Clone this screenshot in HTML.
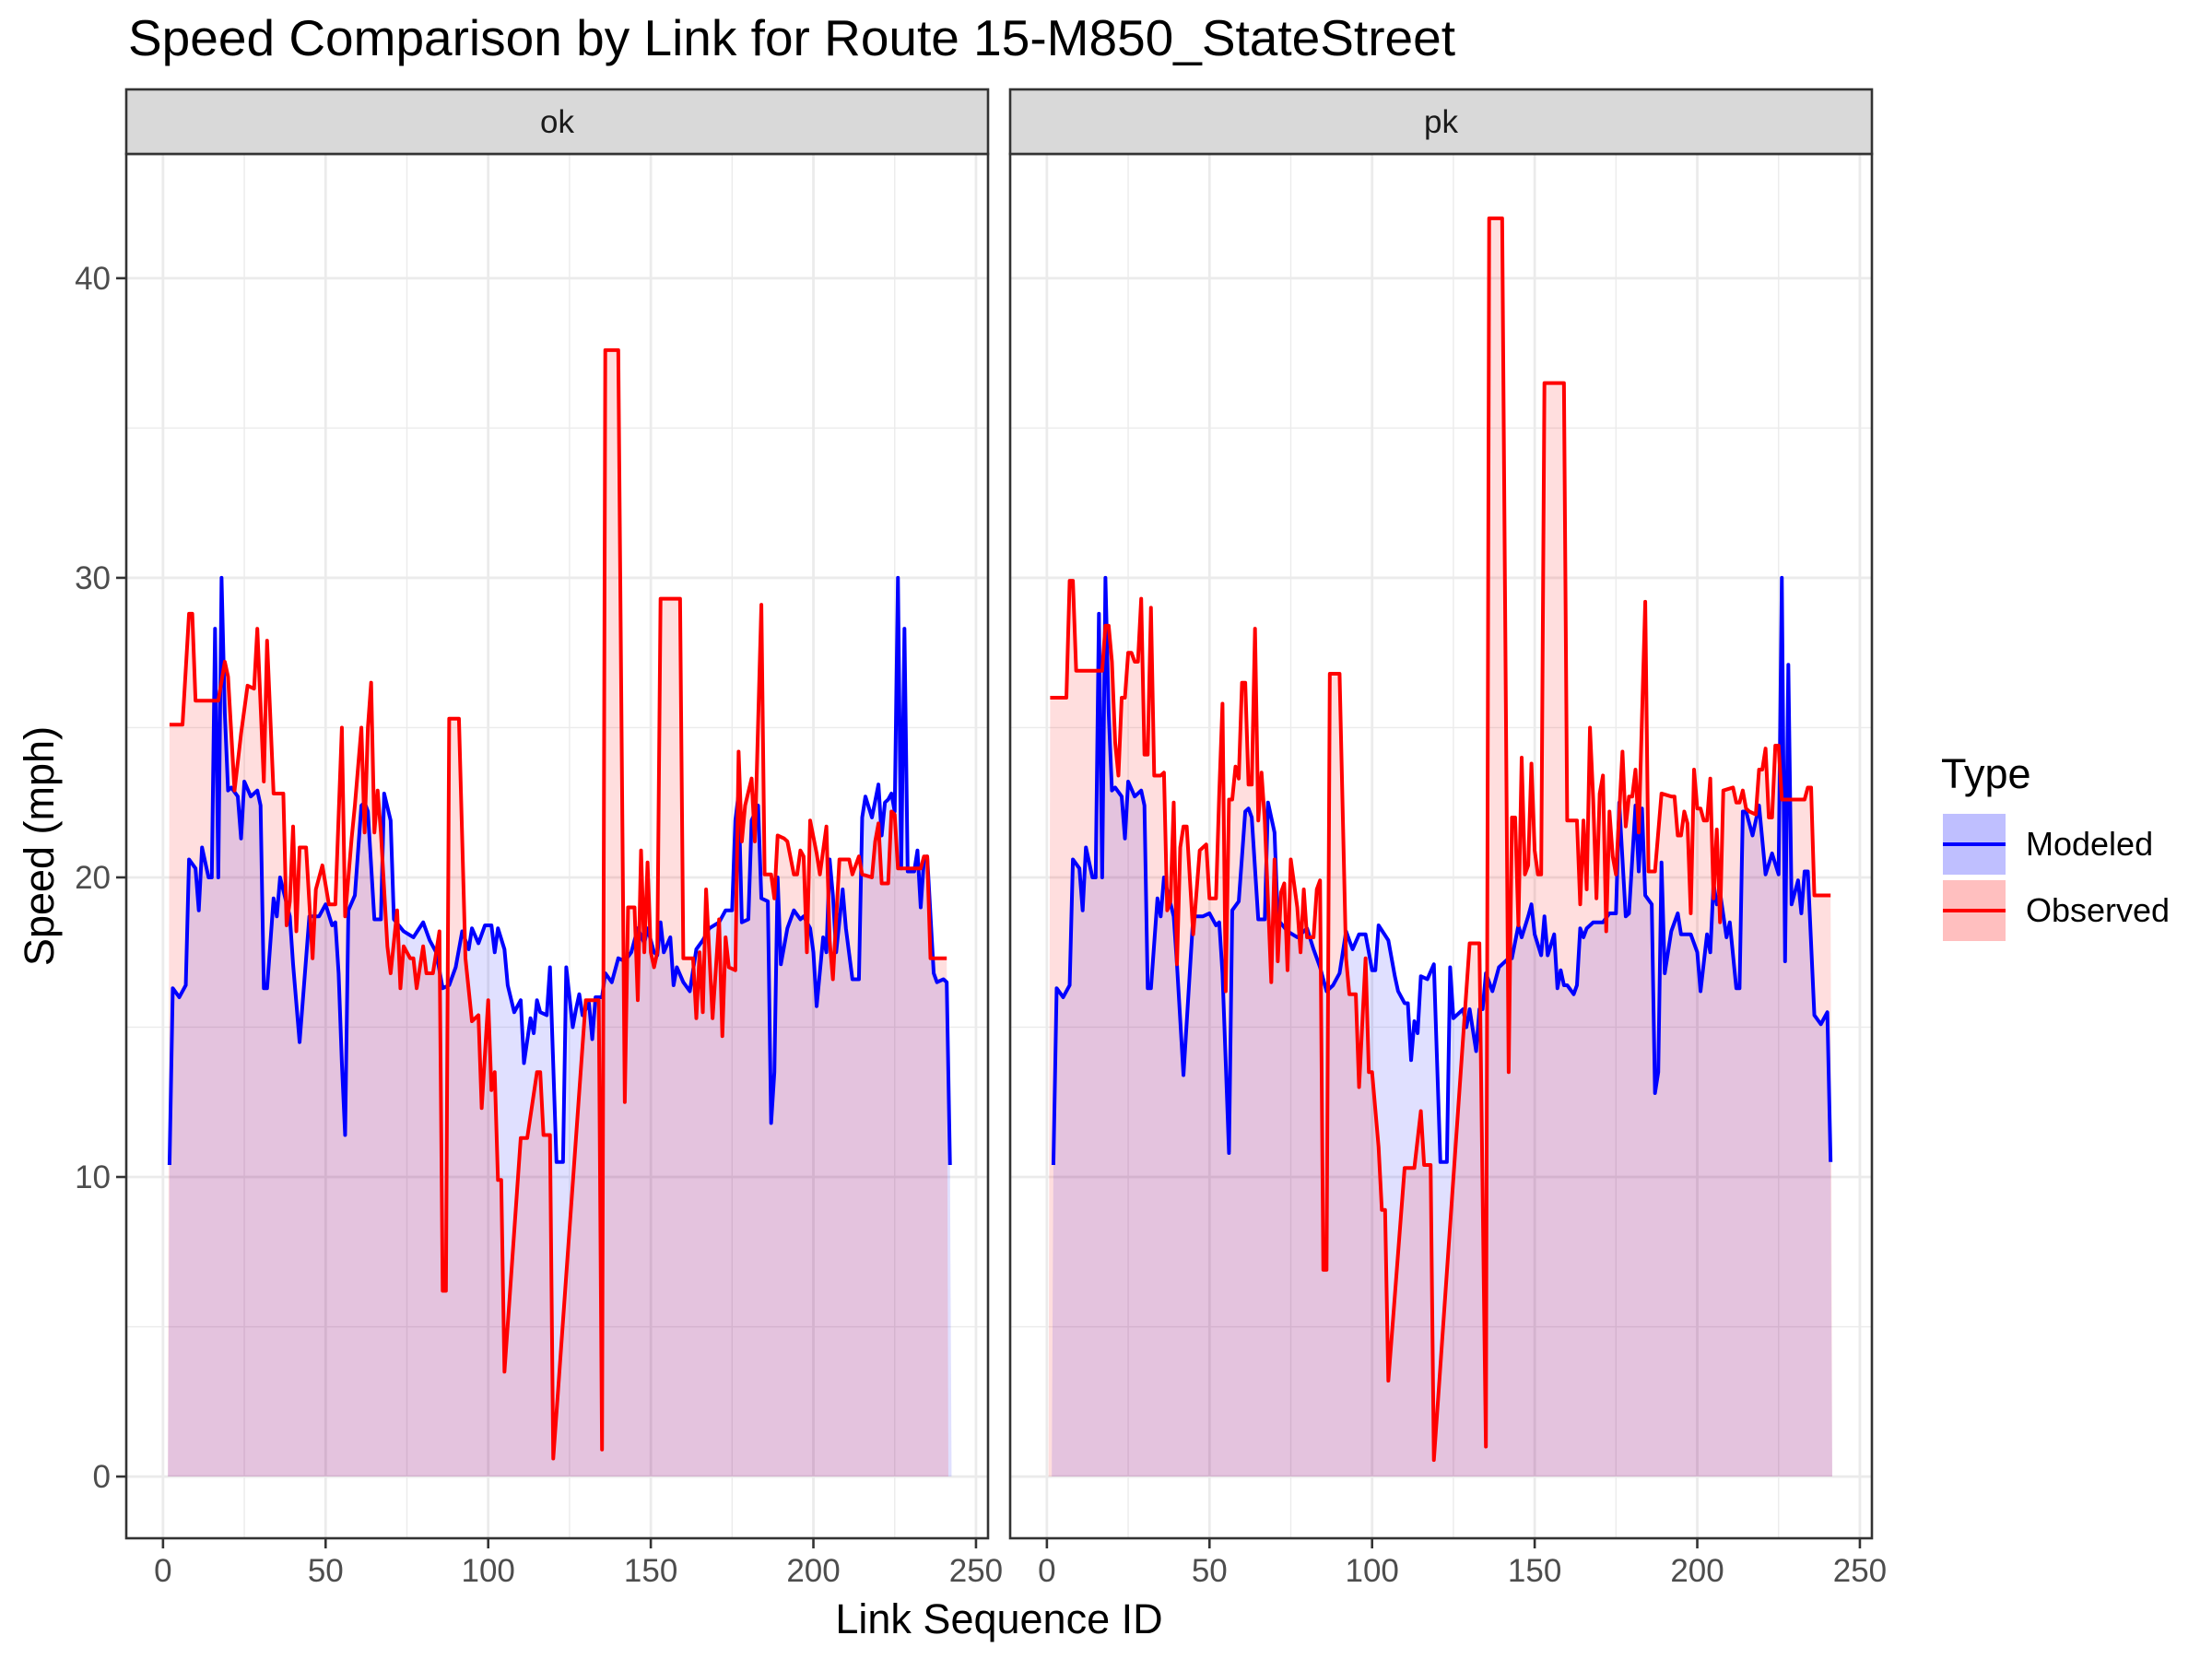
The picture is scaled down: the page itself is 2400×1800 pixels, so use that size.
<!DOCTYPE html>
<html><head><meta charset="utf-8">
<style>
html,body{margin:0;padding:0;background:#fff;}
svg{display:block;font-family:"Liberation Sans",Arial,sans-serif;}
</style></head>
<body>
<svg id="chart" width="2400" height="1800" viewBox="0 0 2400 1800" xmlns="http://www.w3.org/2000/svg">
<rect width="2400" height="1800" fill="#fff"/>
<text x="139" y="60" font-size="55" fill="#000">Speed Comparison by Link for Route 15-M850_StateStreet</text>
<g id="panels"></g>
<text x="1084" y="1772" font-size="45" text-anchor="middle" fill="#000">Link Sequence ID</text>
<text transform="translate(58,918) rotate(-90)" font-size="45" text-anchor="middle" fill="#000">Speed (mph)</text>
<g>
<text x="2106" y="855" font-size="45" fill="#000">Type</text>
<g>
<rect x="2108" y="883" width="68" height="66" fill="rgba(0,0,255,0.25)"/>
<line x1="2108" y1="916" x2="2176" y2="916" stroke="#0000ff" stroke-width="4"/>
<text x="2198" y="928" font-size="36" fill="#000">Modeled</text>
</g>
<g>
<rect x="2108" y="955" width="68" height="66" fill="rgba(255,0,0,0.25)"/>
<line x1="2108" y1="988" x2="2176" y2="988" stroke="#ff0000" stroke-width="4"/>
<text x="2198" y="1000" font-size="36" fill="#000">Observed</text>
</g>
</g>
</svg>
<script>
var xTicks=[0,50,100,150,200,250];
var yTicks=[0,10,20,30,40];
var panelNames=["ok","pk"];

var okModeledIds=[2,3,5,7,8,10,11,12,14,15,16,17,18,19,20,21,23,24,25,27,29,30,31,32,34,35,36,39,40,42,45,48,50,52,53,54,55,56,57,59,61,62,63,65,67,68,70,71,74,77,80,82,84,86,88,90,92,94,95,97,99,101,102,103,105,106,108,110,111,113,114,115,116,118,119,121,123,124,126,127,128,129,131,132,133,135,136,138,140,142,144,146,148,149,151,152,153,154,156,157,158,160,162,164,166,168,171,173,175,176,177,178,180,181,183,184,186,187,188,189,190,192,194,196,197,199,200,201,203,204,205,206,207,209,210,212,214,215,216,218,220,221,222,223,224,225,226,227,228,229,231,232,233,234,235,237,238,240,241,242];
var okModeledSpeeds=[10.4,16.3,16,16.4,20.6,20.3,18.9,21,20,20,28.3,20,30,25.5,22.9,23,22.7,21.3,23.2,22.7,22.9,22.4,16.3,16.3,19.3,18.7,20,18.7,17.1,14.5,18.7,18.7,19.1,18.4,18.5,16.8,13.8,11.4,18.9,19.4,22.4,22.5,22.2,18.6,18.6,22.8,21.9,18.6,18.2,18,18.5,17.9,17.5,16.3,16.4,17,18.2,17.6,18.3,17.8,18.4,18.4,17.5,18.3,17.6,16.4,15.5,15.9,13.8,15.3,14.8,15.9,15.5,15.4,17,10.5,10.5,17,15,15.6,16.1,15.4,15.8,14.6,16,16,16.8,16.5,17.3,17.2,17.5,18.3,17.8,18.3,17.5,17.4,18.5,17.5,18,16.4,17,16.5,16.2,17.6,17.9,18.3,18.5,18.9,18.9,21.9,22.8,18.5,18.6,21.9,22.4,19.3,19.2,11.8,13.5,20,17.1,18.3,18.9,18.6,18.7,18.3,17.5,15.7,18,17.5,20.6,19.4,17.5,19.6,18.3,16.6,16.6,22,22.7,22,23.1,21.4,22.5,22.6,22.8,22.2,30,20.3,28.3,20.2,20.2,20.9,19,20.6,20.7,16.8,16.5,16.6,16.5,10.4];

var okObservedIds=[2,6,8,9,10,17,19,20,22,24,26,28,29,31,32,34,37,38,39,40,41,42,44,46,47,49,51,53,55,56,58,59,61,62,63,64,65,66,67,69,70,72,73,74,76,77,78,80,81,83,85,86,87,88,91,93,95,97,98,100,101,102,103,104,105,110,112,115,116,117,119,120,130,134,135,136,140,142,143,145,146,147,148,149,150,151,152,153,159,160,163,164,165,166,167,169,171,172,173,174,176,177,178,179,181,182,184,185,187,188,189,191,192,194,195,196,197,198,199,201,202,204,205,206,208,211,212,214,215,218,219,220,221,223,224,225,226,233,234,235,236,241];
var okObservedSpeeds=[25.1,25.1,28.8,28.8,25.9,25.9,27.2,26.7,22.9,24.8,26.4,26.3,28.3,23.2,27.9,22.8,22.8,18.4,19.2,21.7,18.2,21,21,17.3,19.6,20.4,19.1,19.1,25,18.7,21.3,22.4,25,21.5,25,26.5,21.5,22.9,21.5,17.7,16.8,18.9,16.3,17.7,17.3,17.3,16.3,17.7,16.8,16.8,18.2,6.2,6.2,25.3,25.3,17.3,15.2,15.4,12.3,15.9,12.9,13.5,9.9,9.9,3.5,11.3,11.3,13.5,13.5,11.4,11.4,0.6,15.9,15.9,0.9,37.6,37.6,12.5,19,19,15.9,20.9,17.5,20.5,17.5,17,17.5,29.3,29.3,17.3,17.3,15.3,17.5,15.5,19.6,15.3,18.6,14.7,18,17,16.9,24.2,21.2,22.4,23.3,21.2,29.1,20.1,20.1,19.3,21.4,21.3,21.2,20.1,20.1,20.9,20.7,17.5,21.9,20.8,20.1,21.7,17.9,16.6,20.6,20.6,20.1,20.7,20.1,20,21.2,21.8,19.8,19.8,22.2,22.1,20.3,20.3,20.7,20.7,17.3,17.3];

var pkModeledIds=[2,3,5,7,8,10,11,12,14,15,16,17,18,19,20,21,23,24,25,27,29,30,31,32,34,35,36,39,40,42,45,48,50,52,53,54,55,56,57,59,61,62,63,65,67,68,70,71,74,77,80,82,84,86,88,90,92,94,96,98,100,101,102,105,107,108,110,111,112,113,114,115,117,119,121,123,124,125,126,128,129,130,132,133,134,135,137,139,140,142,143,145,146,148,149,150,152,153,154,156,157,158,159,160,162,163,164,165,166,168,171,173,175,176,178,179,181,182,183,184,186,187,188,189,190,192,194,195,196,198,200,201,203,204,205,206,207,209,210,212,213,214,215,217,219,221,223,225,226,227,228,229,231,232,233,234,236,238,240,241];
var pkModeledSpeeds=[10.4,16.3,16,16.4,20.6,20.3,18.9,21,20,20,28.8,20,30,25.5,22.9,23,22.7,21.3,23.2,22.7,22.9,22.4,16.3,16.3,19.3,18.7,20,18.7,17.1,13.4,18.7,18.7,18.8,18.4,18.5,16.8,13.8,10.8,18.9,19.2,22.2,22.3,22,18.6,18.6,22.5,21.5,18.6,18.2,18,18.3,17.6,17,16.2,16.4,16.8,18.2,17.6,18.1,18.1,16.9,16.9,18.4,17.9,16.7,16.2,15.8,15.8,13.9,15.2,14.8,16.7,16.6,17.1,10.5,10.5,17,15.3,15.4,15.6,15,15.6,14.2,15.6,15.6,16.8,16.2,17,17.1,17.3,17.3,18.4,18,18.7,19.1,18.1,17.4,18.7,17.4,18.1,16.3,16.9,16.4,16.4,16.1,16.4,18.3,18,18.3,18.5,18.5,18.8,18.8,22.5,18.7,18.8,22.4,20.2,22.3,19.4,19.1,12.8,13.5,20.5,16.8,18.2,18.8,18.1,18.1,18.1,17.5,16.2,18.1,17.5,19.8,19.1,19.5,18,18.5,16.3,16.3,22.2,22.2,21.4,22.4,20.1,20.8,20.1,30,17.2,27.1,19.1,19.9,18.8,20.2,20.2,15.4,15.1,15.5,10.5];

var pkObservedIds=[1,6,7,8,9,17,18,19,20,21,22,23,24,25,26,27,28,29,30,31,32,33,35,36,37,38,39,40,41,42,43,44,45,47,49,50,52,53,54,55,56,57,58,59,60,61,62,63,64,65,66,67,69,70,71,72,73,74,75,77,78,79,80,82,83,84,85,86,87,90,92,93,95,96,98,99,100,102,103,104,105,110,113,115,116,118,119,130,133,135,136,140,142,143,144,145,146,147,148,149,150,151,152,153,159,160,163,164,165,166,167,168,169,170,171,172,173,174,175,177,178,179,180,181,182,184,185,187,189,192,193,194,195,196,197,198,199,200,201,202,203,204,205,206,207,208,211,212,213,214,215,216,218,219,220,221,222,223,224,225,226,233,234,235,236,241];
var pkObservedSpeeds=[26,26,29.9,29.9,26.9,26.9,28.4,28.4,27.2,24.5,23.4,26,26,27.5,27.5,27.2,27.2,29.3,24.1,24.1,29,23.4,23.4,23.5,18.9,19.2,22.5,17.1,21,21.7,21.7,19.9,18.1,20.9,21.1,19.3,19.3,22.8,25.8,16.2,22.6,22.6,23.7,23.3,26.5,26.5,23.1,23.1,28.3,21.9,23.5,21.9,16.5,20.6,17.2,19.5,19.8,16.9,20.6,19,17.5,19.6,18,18,19.6,19.9,6.9,6.9,26.8,26.8,17.3,16.1,16.1,13,17.3,13.5,13.5,11,8.9,8.9,3.2,10.3,10.3,12.2,10.4,10.4,0.55,17.8,17.8,1,42,42,13.5,22,22,18.4,24,20.1,20.4,23.8,20.9,20.1,20.1,36.5,36.5,21.9,21.9,19.1,21.9,19.6,25,22.6,19.3,22.8,23.4,18.2,22.2,20.7,20.1,24.2,21.7,22.7,22.7,23.6,21.5,29.2,20.2,20.2,22.8,22.7,22.7,21.4,21.4,22.2,21.8,18.8,23.6,22.3,22.3,21.9,21.9,23.3,19.3,21.6,18.5,22.9,23,22.5,22.5,22.9,22.3,22.2,22.1,23.6,23.6,24.3,22,22,24.4,24.4,22.6,22.6,23,23,19.4,19.4];

var NS="http://www.w3.org/2000/svg";
var panelLefts=[137,1096], panelW=935, panelTop=167, panelBottom=1669, stripTop=97;
var xMin=-11.3, xMax=253.7, yMin=-2.06, yMax=44.15;
function mk(tag,attrs,parent){var e=document.createElementNS(NS,tag);for(var k in attrs)e.setAttribute(k,attrs[k]);parent.appendChild(e);return e;}
var root=document.getElementById('panels');
var seriesByPanel=[
 [[okModeledIds,okModeledSpeeds,'#0000ff','rgba(0,0,255,0.12)','modeled'],[okObservedIds,okObservedSpeeds,'#ff0000','rgba(255,0,0,0.13)','observed']],
 [[pkModeledIds,pkModeledSpeeds,'#0000ff','rgba(0,0,255,0.12)','modeled'],[pkObservedIds,pkObservedSpeeds,'#ff0000','rgba(255,0,0,0.13)','observed']]
];
panelNames.forEach(function(pn,pi){
 var L=panelLefts[pi];
 function sx(v){return L+(v-xMin)/(xMax-xMin)*panelW;}
 function sy(v){return panelBottom-(v-yMin)/(yMax-yMin)*(panelBottom-panelTop);}
 var g=mk('g',{},root);
 
 
 mk('rect',{x:L,y:panelTop,width:panelW,height:panelBottom-panelTop,fill:'#fff'},g);
 for(var i=0;i<yTicks.length-1;i++){var m=(yTicks[i]+yTicks[i+1])/2;mk('line',{x1:L,x2:L+panelW,y1:sy(m),y2:sy(m),stroke:'#ebebeb','stroke-width':1.4},g);}
 for(var i=0;i<xTicks.length-1;i++){var m=(xTicks[i]+xTicks[i+1])/2;mk('line',{y1:panelTop,y2:panelBottom,x1:sx(m),x2:sx(m),stroke:'#ebebeb','stroke-width':1.4},g);}
 yTicks.forEach(function(t){mk('line',{x1:L,x2:L+panelW,y1:sy(t),y2:sy(t),stroke:'#ebebeb','stroke-width':2.8},g);});
 xTicks.forEach(function(t){mk('line',{y1:panelTop,y2:panelBottom,x1:sx(t),x2:sx(t),stroke:'#ebebeb','stroke-width':2.8},g);});
 seriesByPanel[pi].forEach(function(s){
   var ids=s[0],vals=s[1];
   var d='M'+sx(ids[0]-0.5)+','+sy(0);
   for(var k=0;k<ids.length;k++){d+=' L'+sx(ids[k])+','+sy(vals[k]);}
   d+=' L'+sx(ids[ids.length-1]+0.5)+','+sy(0)+' Z';
   var a=mk('path',{d:d,fill:s[3],stroke:'none'},g);
   
   
 });
 seriesByPanel[pi].forEach(function(s){
   var ids=s[0],vals=s[1];var pts=[];
   for(var k=0;k<ids.length;k++)pts.push(sx(ids[k])+','+sy(vals[k]));
   var l=mk('polyline',{points:pts.join(' '),fill:'none',stroke:s[2],'stroke-width':4,'stroke-linejoin':'round'},g);
   
   
 });
 mk('rect',{x:L,y:panelTop,width:panelW,height:panelBottom-panelTop,fill:'none',stroke:'#333','stroke-width':2.6},g);
 var st=mk('rect',{x:L,y:stripTop,width:panelW,height:panelTop-stripTop,fill:'#d9d9d9',stroke:'#333','stroke-width':2.6},g);
 
 
 var stt=mk('text',{x:L+panelW/2,y:144,'font-size':35,'text-anchor':'middle',fill:'#1a1a1a'},g);
 stt.textContent=pn;
 
 
 xTicks.forEach(function(t){
   mk('line',{x1:sx(t),x2:sx(t),y1:panelBottom,y2:panelBottom+11,stroke:'#333','stroke-width':2.6},g);
   var tx=mk('text',{x:sx(t),y:1716,'font-size':35,'text-anchor':'middle',fill:'#4d4d4d'},g);
   tx.textContent=t;
   
   
 });
 if(pi===0){
  yTicks.forEach(function(t){
   mk('line',{x1:L-11,x2:L,y1:sy(t),y2:sy(t),stroke:'#333','stroke-width':2.6},g);
   var ty=mk('text',{x:L-17,y:sy(t)+12,'font-size':35,'text-anchor':'end',fill:'#4d4d4d'},g);
   ty.textContent=t;
   
   
  });
 }
});
</script>
</body></html>
